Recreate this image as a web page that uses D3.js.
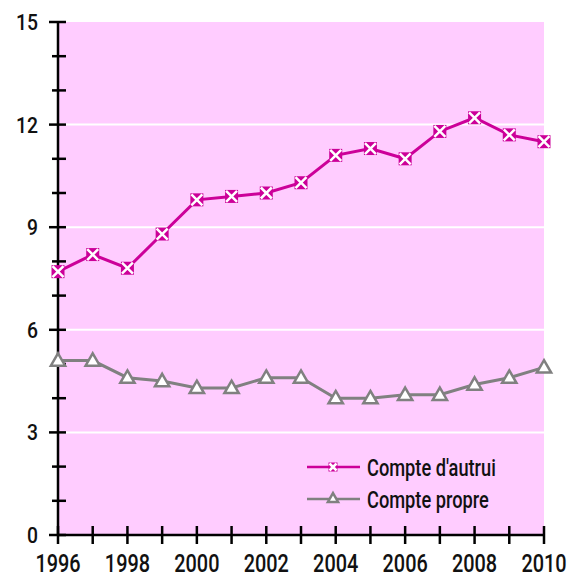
<!DOCTYPE html>
<html>
<head>
<meta charset="utf-8">
<script src="https://cdn.jsdelivr.net/npm/d3@7"></script>
<style>
  body { margin: 0; background: #fff; }
  text { font-family: Roboto, "Noto Sans", sans-serif; font-weight: 500; fill: #111; }
</style>
</head>
<body>
<svg id="svg" width="574" height="579"></svg>
<script>
const years = d3.range(1996, 2011);
const autrui = [7.7, 8.2, 7.8, 8.8, 9.8, 9.9, 10.0, 10.3, 11.1, 11.3, 11.0, 11.8, 12.2, 11.7, 11.5];
const propre = [5.1, 5.1, 4.6, 4.5, 4.3, 4.3, 4.6, 4.6, 4.0, 4.0, 4.1, 4.1, 4.4, 4.6, 4.9];
const yTicks = [0, 3, 6, 9, 12, 15];
const xTicks = [1996, 1998, 2000, 2002, 2004, 2006, 2008, 2010];
const seriesNames = ["Compte d'autrui", "Compte propre"];

const svg = d3.select("#svg");
const x = d3.scaleLinear().domain([1996, 2010]).range([58, 544]);
const y = d3.scaleLinear().domain([0, 15]).range([535, 22]);
const pink = "#ffccff", magenta = "#cc0099", grey = "#808080";

// plot background
svg.append("rect")
  .attr("x", x(1996)).attr("y", y(15))
  .attr("width", x(2010) - x(1996)).attr("height", y(0) - y(15))
  .attr("fill", pink);

// white gridlines
svg.append("g").selectAll("line").data(yTicks.filter(d => d > 0 && d < 15)).enter().append("line")
  .attr("x1", x(1996)).attr("x2", x(2010))
  .attr("y1", d => y(d)).attr("y2", d => y(d))
  .attr("stroke", "#fff").attr("stroke-width", 2);

// axes
const axisG = svg.append("g").attr("stroke", "#000").attr("stroke-width", 2.5);
axisG.append("line").attr("x1", x(1996)).attr("x2", x(1996)).attr("y1", y(15) - 1).attr("y2", y(0) + 1);
axisG.append("line").attr("x1", x(1996) - 1).attr("x2", x(2010) + 1).attr("y1", y(0)).attr("y2", y(0));
axisG.selectAll(".yt").data(d3.range(0, 16)).enter().append("line")
  .attr("x1", d => x(1996) - (d % 3 === 0 ? 9 : 6)).attr("x2", x(1996) + 8)
  .attr("y1", d => y(d)).attr("y2", d => y(d));
axisG.selectAll(".xt").data(years).enter().append("line")
  .attr("x1", d => x(d)).attr("x2", d => x(d))
  .attr("y1", y(0) - 9).attr("y2", y(0) + 9);

svg.append("g").selectAll("text").data(yTicks).enter().append("text")
  .attr("transform", d => `translate(38,${y(d) + 8}) scale(0.86,1)`)
  .attr("text-anchor", "end").attr("font-size", 22.5)
  .text(d => d);
svg.append("g").selectAll("text").data(xTicks).enter().append("text")
  .attr("transform", d => `translate(${x(d)},572) scale(0.78,1)`)
  .attr("text-anchor", "middle").attr("font-size", 25.5)
  .text(d => d);

const line = d3.line().x((d, i) => x(years[i])).y(d => y(d));

function crossMarker(g, s) {
  g.append("rect").attr("x", -s / 2).attr("y", -s / 2).attr("width", s).attr("height", s).attr("fill", magenta);
  g.append("path").attr("d", `M${-s/2+1},${-s/2+1}L${s/2-1},${s/2-1}M${s/2-1},${-s/2+1}L${-s/2+1},${s/2-1}`)
    .attr("stroke", "#fff").attr("stroke-width", 2.5);
}
function triMarker(g, s) {
  g.append("path").attr("d", d3.symbol(d3.symbolTriangle, s * s * 0.45)())
    .attr("fill", "#fff").attr("stroke", grey).attr("stroke-width", 2.5);
}

svg.append("path").datum(autrui).attr("d", line)
  .attr("fill", "none").attr("stroke", magenta).attr("stroke-width", 3);
svg.append("path").datum(propre).attr("d", line)
  .attr("fill", "none").attr("stroke", grey).attr("stroke-width", 3);

svg.append("g").selectAll("g").data(propre).enter().append("g")
  .attr("transform", (d, i) => `translate(${x(years[i])},${y(d) + 1})`)
  .each(function() { triMarker(d3.select(this), 14); });
svg.append("g").selectAll("g").data(autrui).enter().append("g")
  .attr("transform", (d, i) => `translate(${x(years[i])},${y(d)})`)
  .each(function() { crossMarker(d3.select(this), 13); });

// legend
const leg = svg.append("g");
[0, 1].forEach(i => {
  const ly = 467 + i * 32;
  const col = i === 0 ? magenta : grey;
  leg.append("line").attr("x1", 307).attr("x2", 360).attr("y1", ly).attr("y2", ly)
    .attr("stroke", col).attr("stroke-width", 2.5);
  const m = leg.append("g").attr("transform", `translate(333,${ly})`);
  if (i === 0) crossMarker(m, 9); else triMarker(m, 10);
  leg.append("text").attr("transform", `translate(367,${ly + 8.5}) scale(0.76,1)`)
    .attr("font-size", 24).text(seriesNames[i]);
});
</script>
</body>
</html>
